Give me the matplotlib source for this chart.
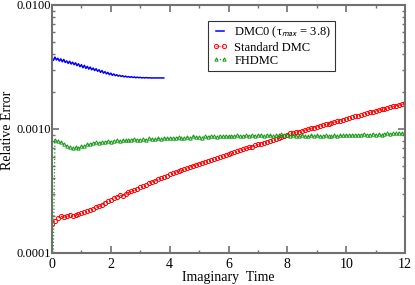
import numpy as np
import matplotlib
matplotlib.use('Agg')
import matplotlib.pyplot as plt
from matplotlib.ticker import LogLocator, FixedLocator, NullFormatter

plt.rcParams['font.family'] = 'Liberation Serif'
plt.rcParams['mathtext.fontset'] = 'stix'

#---------------------------------------------------------
# Dados

# DMC0, passo 0.05 ate tau = 3.8 (unidades de 1e-3)
t_dmc0 = np.arange(0, 3.8001, 0.05)
err_dmc0 = np.array([
    3.72, 3.58, 3.80, 3.60, 3.72, 3.53, 3.68, 3.48, 3.64, 3.44,
    3.54, 3.38, 3.52, 3.34, 3.46, 3.30, 3.42, 3.24, 3.36, 3.18,
    3.30, 3.12, 3.26, 3.08, 3.20, 3.04, 3.16, 3.00, 3.10, 2.96,
    3.06, 2.92, 3.00, 2.86, 2.96, 2.82, 2.90, 2.78, 2.86, 2.74,
    2.82, 2.71, 2.78, 2.69, 2.74, 2.67, 2.71, 2.65, 2.69, 2.63,
    2.67, 2.62, 2.65, 2.61, 2.64, 2.60, 2.63, 2.59, 2.62, 2.59,
    2.61, 2.58, 2.60, 2.58, 2.60, 2.58, 2.59, 2.58, 2.58, 2.58,
    2.58, 2.58, 2.58, 2.58, 2.58, 2.58, 2.58]) * 1e-3

# Standard DMC e FHDMC, passo 0.1 (unidades de 1e-4)
t_grid = np.arange(0, 12.001, 0.1)
err_std = np.array([
    1.72, 1.82, 1.90, 1.98, 1.94, 1.98, 2.04, 1.98, 2.02, 2.06,
    2.10, 2.14, 2.20, 2.24, 2.26, 2.34, 2.38, 2.46, 2.54, 2.62,
    2.70, 2.76, 2.84, 2.92, 2.90, 2.98, 3.08, 3.14, 3.20, 3.30,
    3.40, 3.48, 3.56, 3.66, 3.74, 3.82, 3.92, 4.02, 4.12, 4.20,
    4.30, 4.40, 4.48, 4.58, 4.66, 4.76, 4.86, 4.96, 5.06, 5.14,
    5.25, 5.34, 5.44, 5.54, 5.64, 5.74, 5.86, 5.96, 6.06, 6.18,
    6.30, 6.40, 6.52, 6.62, 6.74, 6.86, 6.98, 7.10, 7.22, 7.36,
    7.50, 7.62, 7.76, 7.90, 8.02, 8.16, 8.30, 8.46, 8.62, 8.78,
    9.00, 9.20, 9.30, 9.40, 9.52, 9.66, 9.80, 9.96, 10.12, 10.28,
    10.44, 10.58, 10.74, 10.90, 11.06, 11.22, 11.40, 11.56, 11.70, 11.90,
    12.10, 12.30, 12.48, 12.66, 12.84, 13.02, 13.22, 13.40, 13.60, 13.80,
    14.00, 14.20, 14.40, 14.60, 14.80, 15.00, 15.20, 15.42, 15.64, 15.86,
    16.10]) * 1e-4

err_fh = np.array([
    0.20, 8.2, 8.0, 7.8, 7.6, 7.3, 7.1, 7.0, 7.1, 7.0,
    7.3, 7.3, 7.5, 7.6, 7.7, 7.8, 7.7, 7.9, 7.8, 8.0,
    7.9, 8.0, 8.1, 8.0, 8.1, 8.2, 8.1, 8.2, 8.3, 8.2,
    8.2, 8.3, 8.2, 8.4, 8.3, 8.3, 8.4, 8.3, 8.5, 8.4,
    8.4, 8.5, 8.4, 8.6, 8.5, 8.5, 8.6, 8.5, 8.7, 8.6,
    8.6, 8.5, 8.7, 8.6, 8.8, 8.7, 8.6, 8.8, 8.7, 8.8,
    8.7, 8.8, 8.7, 8.9, 8.8, 8.7, 8.9, 8.8, 8.9, 8.8,
    8.9, 9.0, 8.8, 9.0, 8.9, 8.8, 9.0, 8.9, 9.1, 8.9,
    9.0, 8.8, 8.9, 8.8, 8.7, 8.9, 8.8, 8.7, 8.9, 8.8,
    8.9, 8.7, 8.8, 8.9, 8.8, 8.7, 8.9, 8.8, 8.9, 9.0,
    8.9, 9.0, 8.9, 9.0, 8.9, 9.0, 9.1, 8.9, 9.0, 9.1,
    9.0, 9.1, 9.0, 9.1, 9.2, 9.1, 9.2, 9.2, 9.3, 9.2,
    9.4]) * 1e-4

ytick_vals = [0.0001, 0.001, 0.01]
ytick_labels = ['0.0001', '0.0010', '0.0100']

#---------------------------------------------------------
# Figura

fig = plt.figure(figsize=(4.15, 2.85), dpi=100)
ax = fig.add_axes([0.1253, 0.1123, 0.8507, 0.8702])

ax.plot(t_dmc0, err_dmc0, '-', color='#0000ff', lw=1.1,
        label='DMC0 (τ$_{\\mathsf{max}}$ = 3.8)')
ax.plot(t_grid, err_std, 'o:', color='#ff0000', mfc='none', mec='#ff0000',
        ms=3.0, mew=0.7, lw=0.8, label='Standard DMC')
ax.plot(t_grid, err_fh, '^:', color='#1a9a1a', mfc='none', mec='#1a9a1a',
        ms=2.4, mew=0.7, lw=0.9, label='FHDMC')

ax.set_yscale('log')
ax.set_xlim(0, 12)
ax.set_ylim(0.0001, 0.01)
ax.set_yticks(ytick_vals)
ax.set_yticklabels(ytick_labels)
ax.yaxis.set_minor_locator(LogLocator(base=10, subs=np.arange(2, 10)))
ax.yaxis.set_minor_formatter(NullFormatter())
ax.set_xticks([0, 2, 4, 6, 8, 10, 12])
ax.xaxis.set_minor_locator(FixedLocator([1, 3, 5, 7, 9, 11]))

ax.tick_params(which='both', direction='in', top=True, right=True,
               color='#707070')
ax.tick_params(axis='y', labelsize=9, pad=1)
ax.tick_params(axis='x', labelsize=10)
ax.tick_params(which='major', length=5, width=1.2)
ax.tick_params(which='minor', length=2.5, width=1.0)
for s in ax.spines.values():
    s.set_color('#707070')
    s.set_linewidth(1.5)

ax.set_xlabel('Imaginary  Time', fontsize=10, labelpad=0)
ax.set_ylabel('Relative Error', fontsize=10)
ax.yaxis.label.set_va('center')
ax.yaxis.set_label_coords(-0.127, 0.496)

leg = ax.legend(loc='upper left', bbox_to_anchor=(0.442, 0.935), fontsize=9,
                frameon=True, fancybox=False, handlelength=1.3, numpoints=2,
                handletextpad=0.5, borderpad=0.3, labelspacing=0.1,
                borderaxespad=0)
leg.get_frame().set_edgecolor('black')
leg.get_frame().set_linewidth(0.8)

fig.savefig('out.png', dpi=100)
